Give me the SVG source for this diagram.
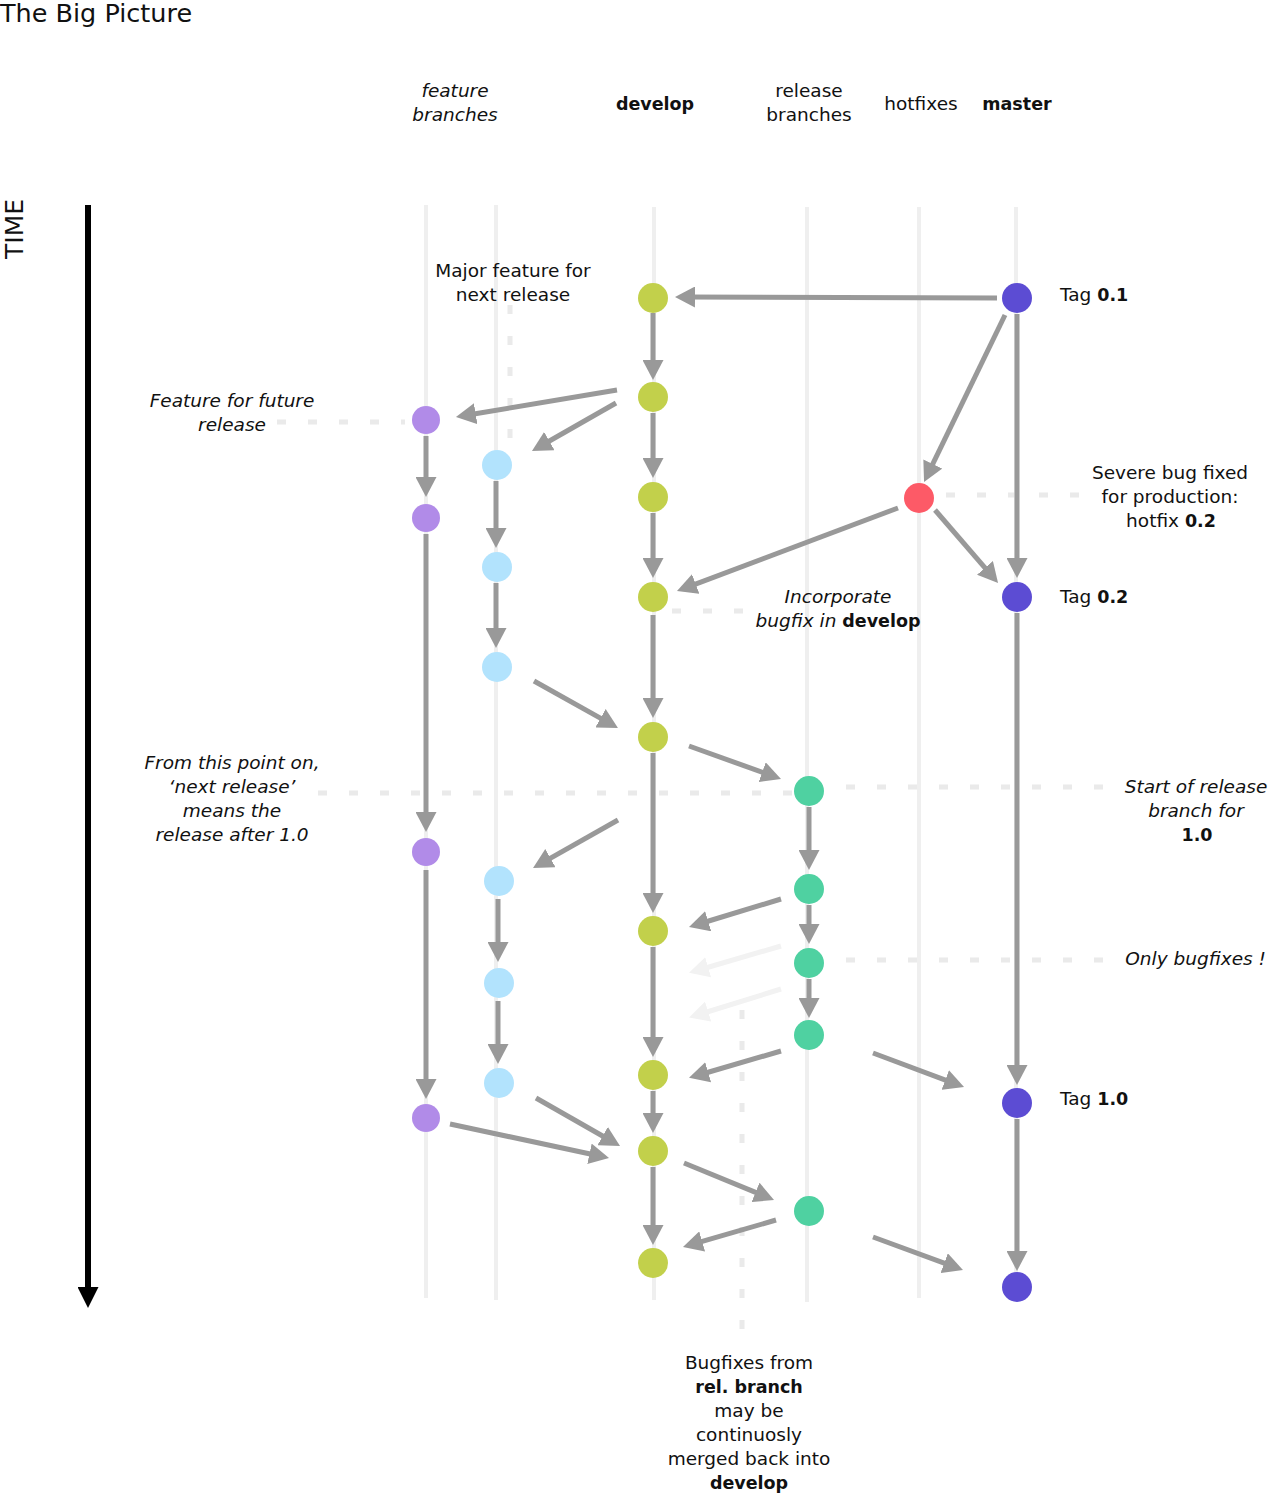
<svg xmlns="http://www.w3.org/2000/svg" width="1268" height="1494" viewBox="0 0 1268 1494">
<style>
text{font-family:"DejaVu Sans","Liberation Sans",sans-serif;font-size:18.5px;fill:#111}
.it{font-style:italic}
.b{font-weight:bold;font-size:17.5px}
.c{text-anchor:middle}
.lane{stroke:#efefef;stroke-width:4;fill:none}
.dash{stroke:#eaeaea;stroke-width:5;stroke-dasharray:9 22;fill:none}
.ar{stroke:#999;stroke-width:5;fill:none;marker-end:url(#ah)}
.fa{stroke:#f2f2f2;stroke-width:5;fill:none;marker-end:url(#ahf)}
.dv{fill:#c2d04b}.ma{fill:#5c4cd3}.fp{fill:#b18be8}.fb{fill:#b2e3fd}.rl{fill:#4fd1a1}.hf{fill:#fd5a67}
</style>
<defs>
<marker id="ah" markerUnits="userSpaceOnUse" markerWidth="20" markerHeight="21" refX="8" refY="10.5" orient="auto"><path d="M0,0 L20,10.5 L0,21 z" fill="#999"/></marker>
<marker id="ahf" markerUnits="userSpaceOnUse" markerWidth="20" markerHeight="21" refX="8" refY="10.5" orient="auto"><path d="M0,0 L20,10.5 L0,21 z" fill="#f2f2f2"/></marker>
<marker id="ahk" markerUnits="userSpaceOnUse" markerWidth="21" markerHeight="21" refX="8" refY="10.5" orient="auto"><path d="M0,0 L21,10.5 L0,21 z" fill="#000"/></marker>
</defs>
<text x="0" y="22" style="font-size:25.5px">The Big Picture</text>
<text class="c" style="font-size:25px" transform="translate(23,229) rotate(-90)">TIME</text>
<line x1="88" y1="205" x2="88" y2="1295" stroke="#000" stroke-width="6" marker-end="url(#ahk)"/>
<g id="lanes">
<line class="lane" x1="426" y1="205" x2="426" y2="1298"/>
<line class="lane" x1="496" y1="205" x2="496" y2="1300"/>
<line class="lane" x1="654" y1="207" x2="654" y2="1300"/>
<line class="lane" x1="807" y1="207" x2="807" y2="1302"/>
<line class="lane" x1="919" y1="207" x2="919" y2="1298"/>
<line class="lane" x1="1016" y1="207" x2="1016" y2="1300"/>
</g>
<g id="guides">
<line class="dash" x1="510" y1="305" x2="510" y2="442"/>
<line class="dash" x1="277" y1="422" x2="405" y2="422"/>
<line class="dash" x1="946" y1="495" x2="1082" y2="495"/>
<line class="dash" x1="672" y1="611" x2="752" y2="611"/>
<line class="dash" x1="318" y1="793" x2="792" y2="793"/>
<line class="dash" x1="846" y1="787" x2="1110" y2="787"/>
<line class="dash" x1="846" y1="960" x2="1110" y2="960"/>
<line class="dash" x1="742" y1="1010" x2="742" y2="1342"/>
</g>
<g id="connectors">
<line class="ar" x1="997" y1="298" x2="687" y2="297"/>
<line class="ar" x1="653" y1="313" x2="653" y2="368"/>
<line class="ar" x1="653" y1="413" x2="653" y2="466"/>
<line class="ar" x1="653" y1="513" x2="653" y2="566"/>
<line class="ar" x1="653" y1="615" x2="653" y2="706"/>
<line class="ar" x1="653" y1="753" x2="653" y2="901"/>
<line class="ar" x1="653" y1="947" x2="653" y2="1045"/>
<line class="ar" x1="653" y1="1091" x2="653" y2="1121"/>
<line class="ar" x1="653" y1="1167" x2="653" y2="1233"/>
<line class="ar" x1="617" y1="390" x2="467.8" y2="415"/>
<line class="ar" x1="616" y1="403" x2="542.4" y2="445"/>
<line class="ar" x1="1005" y1="315" x2="929.3" y2="471.2"/>
<line class="ar" x1="1017" y1="314" x2="1017" y2="566"/>
<line class="ar" x1="935" y1="510" x2="990.2" y2="573.9"/>
<line class="ar" x1="898" y1="508" x2="688.2" y2="586.8"/>
<line class="ar" x1="426" y1="436" x2="426" y2="485"/>
<line class="ar" x1="426" y1="534" x2="426" y2="820"/>
<line class="ar" x1="426" y1="870" x2="426" y2="1087"/>
<line class="ar" x1="496" y1="481" x2="496" y2="536"/>
<line class="ar" x1="496" y1="583" x2="496" y2="636"/>
<line class="ar" x1="498" y1="899" x2="498" y2="950"/>
<line class="ar" x1="498" y1="1001" x2="498" y2="1052"/>
<line class="ar" x1="534" y1="681" x2="607.5" y2="722.1"/>
<line class="ar" x1="689" y1="746" x2="769.7" y2="774.9"/>
<line class="ar" x1="618" y1="820" x2="543.5" y2="862.1"/>
<line class="ar" x1="809" y1="807" x2="809" y2="858"/>
<line class="ar" x1="809" y1="905" x2="809" y2="932"/>
<line class="ar" x1="809" y1="979" x2="809" y2="1006"/>
<line class="ar" x1="781" y1="899" x2="700.5" y2="923.5"/>
<line class="fa" x1="781" y1="946" x2="700.5" y2="969.5"/>
<line class="fa" x1="781" y1="989" x2="700.5" y2="1014"/>
<line class="ar" x1="781" y1="1051" x2="700.5" y2="1074.5"/>
<line class="ar" x1="873" y1="1053" x2="952.8" y2="1082.8"/>
<line class="ar" x1="1017" y1="613" x2="1017" y2="1073"/>
<line class="ar" x1="1017" y1="1119" x2="1017" y2="1259"/>
<line class="ar" x1="450" y1="1124" x2="597.3" y2="1155.5"/>
<line class="ar" x1="536" y1="1098" x2="609.6" y2="1140"/>
<line class="ar" x1="684" y1="1163" x2="762.9" y2="1195.4"/>
<line class="ar" x1="776" y1="1220" x2="694.5" y2="1243.7"/>
<line class="ar" x1="873" y1="1237" x2="951.7" y2="1265.9"/>
</g>
<g id="develop-nodes">
<circle id="d1" class="dv" cx="653" cy="298" r="15"/>
<circle id="d2" class="dv" cx="653" cy="397" r="15"/>
<circle id="d3" class="dv" cx="653" cy="497" r="15"/>
<circle id="d4" class="dv" cx="653" cy="597" r="15"/>
<circle id="d5" class="dv" cx="653" cy="737" r="15"/>
<circle id="d6" class="dv" cx="653" cy="931" r="15"/>
<circle id="d7" class="dv" cx="653" cy="1075" r="15"/>
<circle id="d8" class="dv" cx="653" cy="1151" r="15"/>
<circle id="d9" class="dv" cx="653" cy="1263" r="15"/>
</g>
<g id="master-nodes">
<circle id="m1" class="ma" cx="1017" cy="298" r="15"/>
<circle id="m2" class="ma" cx="1017" cy="597" r="15"/>
<circle id="m3" class="ma" cx="1017" cy="1103" r="15"/>
<circle id="m4" class="ma" cx="1017" cy="1287" r="15"/>
</g>
<g id="hotfix-nodes">
<circle id="h1" class="hf" cx="919" cy="498" r="15"/>
</g>
<g id="feature1-nodes">
<circle id="f1" class="fp" cx="426" cy="420" r="14"/>
<circle id="f2" class="fp" cx="426" cy="518" r="14"/>
<circle id="f3" class="fp" cx="426" cy="852" r="14"/>
<circle id="f4" class="fp" cx="426" cy="1118" r="14"/>
</g>
<g id="feature2-nodes">
<circle id="g1" class="fb" cx="497" cy="465" r="15"/>
<circle id="g2" class="fb" cx="497" cy="567" r="15"/>
<circle id="g3" class="fb" cx="497" cy="667" r="15"/>
<circle id="g4" class="fb" cx="499" cy="881" r="15"/>
<circle id="g5" class="fb" cx="499" cy="983" r="15"/>
<circle id="g6" class="fb" cx="499" cy="1083" r="15"/>
</g>
<g id="release-nodes">
<circle id="r1" class="rl" cx="809" cy="791" r="15"/>
<circle id="r2" class="rl" cx="809" cy="889" r="15"/>
<circle id="r3" class="rl" cx="809" cy="963" r="15"/>
<circle id="r4" class="rl" cx="809" cy="1035" r="15"/>
<circle id="r5" class="rl" cx="809" cy="1211" r="15"/>
</g>
<g id="labels">
<text class="c it" x="455" y="97">feature</text>
<text class="c it" x="455" y="121">branches</text>
<text class="c b" x="655" y="110">develop</text>
<text class="c" x="809" y="97">release</text>
<text class="c" x="809" y="121">branches</text>
<text class="c" x="921" y="110">hotfixes</text>
<text class="c b" x="1017" y="110">master</text>
<text class="c" x="513" y="277">Major feature for</text>
<text class="c" x="513" y="301">next release</text>
<text class="c it" x="232" y="407">Feature for future</text>
<text class="c it" x="232" y="431">release</text>
<text x="1060" y="301">Tag <tspan class="b">0.1</tspan></text>
<text x="1060" y="603">Tag <tspan class="b">0.2</tspan></text>
<text x="1060" y="1105">Tag <tspan class="b">1.0</tspan></text>
<text class="c" x="1170" y="479">Severe bug fixed</text>
<text class="c" x="1170" y="503">for production:</text>
<text class="c" x="1171" y="527">hotfix <tspan class="b">0.2</tspan></text>
<text class="c it" x="838" y="603">Incorporate</text>
<text class="c" x="838" y="627"><tspan class="it">bugfix in </tspan><tspan class="b">develop</tspan></text>
<text class="c it" x="232" y="769">From this point on,</text>
<text class="c it" x="232" y="793">‘next release’</text>
<text class="c it" x="232" y="817">means the</text>
<text class="c it" x="232" y="841">release after 1.0</text>
<text class="c it" x="1196" y="793">Start of release</text>
<text class="c it" x="1196" y="817">branch for</text>
<text class="c b" x="1197" y="841">1.0</text>
<text class="it" x="1266" y="965" text-anchor="end">Only bugfixes !</text>
<text class="c" x="749" y="1369">Bugfixes from</text>
<text class="c b" x="749" y="1393">rel. branch</text>
<text class="c" x="749" y="1417">may be</text>
<text class="c" x="749" y="1441">continuosly</text>
<text class="c" x="749" y="1465">merged back into</text>
<text class="c b" x="749" y="1489">develop</text>
</g>
</svg>
